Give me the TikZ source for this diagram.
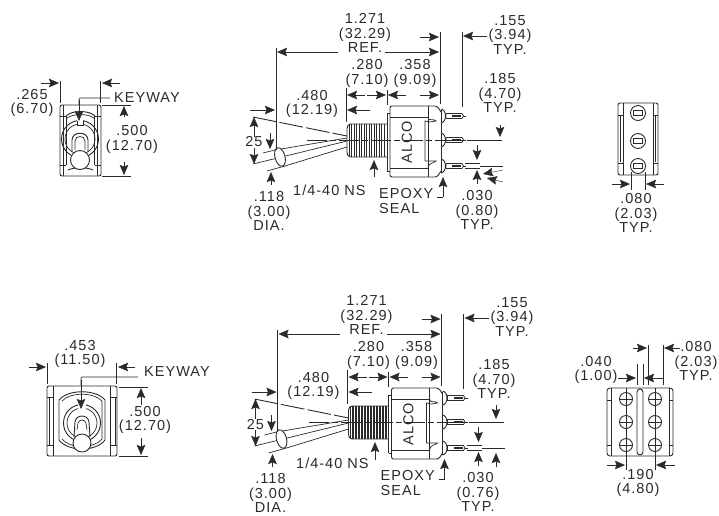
\documentclass[tikz,border=0pt]{standalone}
\usepackage{fontspec}
\setmainfont[LetterSpace=7]{Liberation Sans}
\usetikzlibrary{arrows.meta}
\definecolor{inkgray}{HTML}{2A2A2A}
\tikzset{
  dimarrow/.style={-{Stealth[length=10pt,width=8.5pt,inset=1.5pt]}},
  dimtext/.style={inner sep=0pt,align=center,text=inkgray,font=\fontsize{14.5}{14.6}\selectfont},
  leftlabel/.style={dimtext,anchor=west,align=left},
  partline/.style={line width=.9pt},
  thinline/.style={line width=.7pt}
}
% side view of the switch, #1 is the spacing of the thread
\newcommand{\switchside}[1]{
  \draw[partline,rounded corners=1.5pt] (387,124) -- (349,124) -- (347,127) -- (347,154) -- (349,157) -- (387,157);
  \foreach \x in {349,#1,...,386} \draw[thinline] (\x,124) -- (\x,157);
  \draw[partline] (387,113) -- (387,171);
  \draw[partline] (387,113) -- (390,113) (387,171) -- (390,171);
  \draw[partline,rounded corners=2pt] (390,171) -- (390,106) -- (433,106) .. controls (437,106) and (440,109) .. (441,112);
  \draw[partline,rounded corners=2pt] (390,171) -- (390,177) -- (433,177) .. controls (437,177) and (440,174) .. (441,171);
  \draw[partline] (441,110) -- (441,173);
  \draw[thinline] (390,117) -- (428,117) (390,168) -- (428,168) (428,106) -- (428,177);
  % inner bracket
  \draw[thinline] (428,117) .. controls (429,122) and (433,118) .. (436,121) -- (430,122) -- (425,121) -- (425,161) -- (436,161) .. controls (433,164) and (429,162) .. (428,168);
  \node[dimtext,rotate=90] (alco) at (407,142) {ALCO};
  % terminals
  \foreach \y in {116,140,166} {
    \draw[partline] (441,\y-7) .. controls (447,\y-6) and (447,\y+6) .. (441,\y+7);
    \draw[thinline] (446,\y-2.5) -- (462,\y-2.5) -- (463.5,\y) -- (462,\y+2.5) -- (446,\y+2.5) -- cycle;
    \fill (452,\y-1) rectangle (461,\y+1);
    \draw[thinline] (463,\y) -- (466,\y);
  }
  % lever
  \draw[partline,dash pattern=on 24pt off 3pt] (253,117) -- (347,136);
  \draw[thinline,dash pattern=on 20pt off 3pt on 6pt off 3pt] (307,140) -- (463,140);
  \draw[thinline] (275,150) -- (347,138) (285,166) -- (347,147) (253,164) -- (347,141);
  \draw[thinline] (263,153) -- (275,150) (267,171) -- (285,166);
  \draw[partline,fill=white,rotate around={15:(280,157)}] (280,157) ellipse (5 and 9.5);
  % extension lines
  \draw[thinline] (276,48) -- (276,150) (440,32) -- (440,104) (462,32) -- (462,107);
  \draw[thinline] (346,88) -- (346,122) (387,90) -- (387,105);
  \draw[thinline] (467,140) -- (502,140) (465,163) -- (480,163) (465,168) -- (480,168) (480,166) -- (503,166);
  % dimension arrows
  \draw[dimarrow] (338,52) -- (277,52);
  \draw[dimarrow] (385,52) -- (439,52);
  \draw[dimarrow] (420,37) -- (439,37);
  \draw[dimarrow] (487,36) -- (463,36);
  \draw[dimarrow] (365,95) -- (347,95);
  \draw[dimarrow] (367,95) -- (386,95);
  \draw[dimarrow] (406,95) -- (388,95);
  \draw[dimarrow] (420,95) -- (439,95);
  \draw[dimarrow] (250,110) -- (275,110);
  \draw[dimarrow] (370,110) -- (347,110);
  \draw[dimarrow] (254,137) -- (254,117);
  \draw[dimarrow] (254,148) -- (254,164);
  \draw[dimarrow] (270,133) -- (270,149);
  \draw[dimarrow] (271,185) -- (271,172);
  \draw[dimarrow] (477,145) -- (477,160);
  \draw[dimarrow] (477,184) -- (477,170);
  \draw[dimarrow] (443,197) -- (443,177);
  \draw[thinline] (437,197) -- (443,197);
  \node[dimtext] (reftxt) at (365,33) {1.271\\(32.29)\\REF.};
  \node[dimtext] (pintxt) at (367,73.5) {.280\\(7.10)};
  \node[dimtext] (bodytxt) at (415,73.5) {.358\\(9.09)};
  \node[dimtext] (levertxt) at (312,104) {.480\\(12.19)};
  \node[dimtext] (angletxt) at (254,142) {25};
  \node[dimtext] (diatxt) at (269,211) {.118\\(3.00)\\DIA.};
  \node[leftlabel] (epoxytxt) at (379,201) {EPOXY\\SEAL};
}
\begin{document}
\begin{tikzpicture}[x=1pt,y=-1pt,color=inkgray]
  \useasboundingbox (0,0) rectangle (719,515);

  % top row, front view
  \draw[partline,rounded corners=2pt] (60,105) rectangle (101,176);
  \draw[thinline] (63.5,105) -- (63.5,176) (66.5,116) -- (66.5,165) (97.5,105) -- (97.5,176) (94.5,116) -- (94.5,165);
  \draw[partline,rounded corners=1pt] (60,116) -- (66,116) (95,116) -- (101,116) (60,165) -- (66,165) (95,165) -- (101,165);
  \draw[partline] (66,116) .. controls (72,110) and (89,110) .. (95,116);
  \draw[thinline] (66,119) .. controls (72,113) and (89,113) .. (95,119);
  \draw[partline] (68,170) .. controls (74,167) and (87,167) .. (93,170);
  \draw[partline] (80,139) circle (18.5);
  \draw[thinline] (80,139) circle (15);
  \fill[white] (77,120) rectangle (83,125);
  \draw[thinline] (77,120.5) -- (77,125) -- (83,125) -- (83,120.5);
  \draw[partline] (72,152) -- (72,140) .. controls (72,131) and (88,131) .. (88,140) -- (88,152);
  \draw[thinline] (75,150) -- (75,141) .. controls (75,135) and (85,135) .. (85,141) -- (85,150);
  \draw[partline,fill=white] (80,160) circle (9.5);
  \draw[thinline] (60,81) -- (60,103) (100.5,81) -- (100.5,103);
  \draw[thinline] (102,105) -- (131,105) (102,176) -- (131,176);
  \draw[dimarrow] (41,83) -- (59,83);
  \draw[dimarrow] (120,83) -- (102,83);
  \draw[dimarrow] (124,117) -- (124,106);
  \draw[dimarrow] (124,162) -- (124,175);
  \draw[thinline,rounded corners=1pt] (110,98) -- (79,98) -- (79,105);
  \draw[dimarrow] (79,100) -- (79,121);
  \node[dimtext] (wtoptxt) at (32,103) {.265\\(6.70)};
  \node[leftlabel] (keytoptxt) at (114,98) {KEYWAY};
  \node[dimtext] (htoptxt) at (132,139.5) {.500\\(12.70)};

  % top row, side view
  \switchside{351.5}
  \node[dimtext] (teetxt) at (510,35) {.155\\(3.94)\\TYP.};
  \node[dimtext] (pitchtxt) at (500,93) {.185\\(4.70)\\TYP.};
  \node[dimtext] (thicktxt) at (477,210) {.030\\(0.80)\\TYP.};
  \node[leftlabel] (threadtxt) at (293,190) {1/4-40 NS};
  \draw[dimarrow] (374,177) -- (374,160);
  \draw[dimarrow] (500,125) -- (500,137);
  \draw[dimarrow] (503,170) -- (483,174);
  \draw[dimarrow] (503,182) -- (487,178);

  % top row, rear view
  \draw[partline,rounded corners=2pt] (618,103) rectangle (658,175);
  \draw[thinline] (623,103) -- (623,175) (653,103) -- (653,175);
  \draw[line width=1.4pt] (620.5,116) -- (620.5,162) (655.5,116) -- (655.5,162);
  \draw[partline] (618,115) -- (623,115) (653,115) -- (658,115) (618,163) -- (623,163) (653,163) -- (658,163);
  \foreach \y in {113,141,166} {
    \draw[partline] (638,\y) circle (7.5);
    \draw[thinline] (633.5,\y-2.5) rectangle (642.5,\y+2.5);
  }
  \draw[thinline] (631,172) -- (631,190) (645,172) -- (645,190);
  \draw[dimarrow] (612,184) -- (630,184);
  \draw[dimarrow] (664,184) -- (646,184);
  \node[dimtext] (reartoptxt) at (636,213) {.080\\(2.03)\\TYP.};

  % bottom row, front view
  \draw[partline,rounded corners=2pt] (47,386) rectangle (117,456);
  \draw[thinline] (53,386) -- (53,456) (110.5,386) -- (110.5,456) (49,397) -- (49,445) (115,397) -- (115,445);
  \draw[partline] (47,397) -- (53,397) (110,397) -- (117,397) (47,445) -- (53,445) (110,445) -- (117,445);
  \draw[partline] (59,400) .. controls (68,389) and (96,389) .. (105,400) -- (105,440) .. controls (96,452) and (68,452) .. (59,440) -- cycle;
  \draw[thinline] (62,401) .. controls (70,392) and (94,392) .. (102,401) -- (102,439) .. controls (94,449) and (70,449) .. (62,439);
  \draw[partline] (82,423) circle (18.5);
  \draw[thinline] (82,423) circle (15);
  \fill[white] (78,404) rectangle (86,409);
  \draw[partline] (74,437) -- (75,422) .. controls (76,414) and (88,414) .. (89,422) -- (90,437);
  \draw[thinline] (77,430) -- (78,423) .. controls (79,419) and (85,419) .. (86,423) -- (87,430);
  \draw[partline,fill=white] (82,443) circle (9);
  \draw[thinline] (47,363) -- (47,384) (116.5,363) -- (116.5,384);
  \draw[thinline] (119,387) -- (148,387) (119,456) -- (148,456);
  \draw[dimarrow] (29,367) -- (46,367);
  \draw[dimarrow] (135,367) -- (118,367);
  \draw[dimarrow] (141,405) -- (141,388);
  \draw[dimarrow] (141,438) -- (141,455);
  \draw[thinline,rounded corners=1pt] (138,377) -- (81,377) -- (81,385);
  \draw[dimarrow] (81,380) -- (81,409);
  \node[dimtext] (wbottxt) at (80,354) {.453\\(11.50)};
  \node[leftlabel] (keybottxt) at (144,372) {KEYWAY};
  \node[dimtext] (hbottxt) at (145,420) {.500\\(12.70)};

  % bottom row, side view
  \begin{scope}[shift={(1.5,282)}]
    \switchside{350.5}
  \end{scope}
  \node[dimtext] (teebottxt) at (512,317) {.155\\(3.94)\\TYP.};
  \node[dimtext] (pitchbottxt) at (494,379) {.185\\(4.70)\\TYP.};
  \node[dimtext] (thickbottxt) at (478,492) {.030\\(0.76)\\TYP.};
  \node[leftlabel] (threadbottxt) at (296,463) {1/4-40 NS};
  \draw[dimarrow] (375,460) -- (375,442);
  \draw[dimarrow] (496,405) -- (496,419);
  \draw[dimarrow] (496,467) -- (496,453);

  % bottom row, rear view
  \draw[partline,rounded corners=3pt] (607,388) rectangle (673,456);
  \draw[thinline] (611,388) -- (611,456) (669,388) -- (669,456);
  \draw[partline] (607,400) -- (611,400) (669,400) -- (673,400) (607,445) -- (611,445) (669,445) -- (673,445);
  \draw[partline,rounded corners=3pt] (637,389) rectangle (643,455);
  \foreach \x in {626,655} {
    \foreach \y in {399,422,445} {
      \draw[partline] (\x,\y) circle (6.5);
      \draw[thinline] (\x-6.5,\y) -- (\x+6.5,\y);
    }
    \draw[thinline] (\x,388) -- (\x,470);
  }
  \draw[thinline] (637,364) -- (637,385) (643,364) -- (643,385) (648,345) -- (648,385) (663,345) -- (663,385);
  \draw[dimarrow] (633,348) -- (647,348);
  \draw[dimarrow] (680,348) -- (664,348);
  \draw[dimarrow] (618,378) -- (636,378);
  \draw[dimarrow] (663,378) -- (644,378);
  \draw[dimarrow] (607,465) -- (625,465);
  \draw[dimarrow] (675,465) -- (656,465);
  \node[dimtext] (slottxt) at (596,370) {.040\\(1.00)};
  \node[dimtext] (rearbottxt) at (696,361) {.080\\(2.03)\\TYP.};
  \node[dimtext] (spantxt) at (638,483) {.190\\(4.80)};
\end{tikzpicture}
\end{document}
